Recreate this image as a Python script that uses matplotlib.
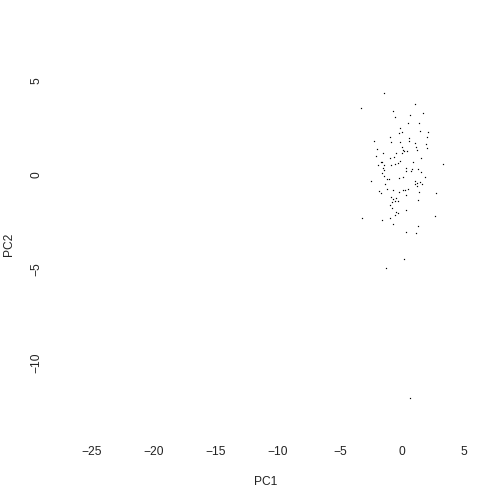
import matplotlib
matplotlib.use("Agg")
import matplotlib.pyplot as plt

# PCA scores
pc1 = [-1.42, -3.28, 1.08, -0.70, -0.54, 1.72, 0.67, 0.51, 1.40, -0.13,
       0.03, -0.22, 1.48, 2.12, -0.94, 0.59, 2.04, -2.26, -0.86, 0.59,
       -0.13, 1.02, 1.96, -1.99, -0.03, 0.11, 1.16, 0.19, 1.24, 2.04,
       -1.51, 0.43, -0.46, -2.07, -0.62, -0.94, 0.03, -1.59, -1.67, -1.42,
       -0.54, -0.30, -0.13, 0.91, 1.56, 3.33, -1.91, -1.51, -0.86, -1.42,
       0.35, 0.83, 1.32, 0.35, 0.75, 1.51, -1.59, -1.42, -1.18, -1.02,
       -0.22, 0.11, 1.88, -2.47, 1.08, 1.42, 1.24, 1.64, 1.08, -1.34,
       1.24, -1.18, 0.11, 0.27, 0.51, -0.70, -1.83, -1.67, -0.22, 1.40,
       2.77, 0.35, -0.86, -0.46, -0.70, -0.54, -0.30, -0.78, 1.32, -0.94,
       -0.78, 0.35, -0.46, -0.30, -0.54, -3.20, -1.59, -0.94, 2.69, -0.70,
       1.32, 0.35, 1.16, 0.19, -1.27, 0.67]
pc2 = [4.34, 3.55, 3.76, 3.39, 3.09, 3.28, 3.17, 2.75, 2.75, 2.48,
       2.30, 2.22, 2.36, 2.30, 2.04, 1.95, 2.04, 1.79, 1.74, 1.79,
       1.74, 1.68, 1.63, 1.37, 1.51, 1.33, 1.47, 1.26, 1.33, 1.42,
       1.15, 1.26, 1.15, 0.99, 0.94, 0.89, 1.15, 0.71, 0.69, 0.51,
       0.57, 0.62, 0.73, 0.69, 0.90, 0.57, 0.51, 0.35, 0.51, 0.27,
       0.35, 0.30, 0.30, 0.19, 0.19, 0.14, 0.09, -0.04, -0.21, -0.21,
       -0.18, -0.12, -0.12, -0.32, -0.34, -0.39, -0.44, -0.50, -0.50, -0.50,
       -0.60, -0.73, -0.80, -0.80, -0.76, -0.82, -0.87, -0.98, -0.92, -0.92,
       -0.98, -1.08, -1.19, -1.24, -1.29, -1.37, -1.37, -1.45, -1.33, -1.61,
       -1.77, -1.86, -1.95, -2.00, -2.11, -2.31, -2.39, -2.29, -2.20, -2.62,
       -2.73, -3.01, -3.10, -4.48, -4.96, -11.88]

xticks = [-25, -20, -15, -10, -5, 0, 5]
yticks = [5, 0, -5, -10]

plt.rcParams['font.family'] = ['Liberation Sans', 'DejaVu Sans']

fig = plt.figure(figsize=(7, 7), dpi=72)
# plot region in pixels: left 52, right 480, top 60, bottom 428
ax = fig.add_axes([52/504, (504-428)/504, (480-52)/504, (428-60)/504])

ax.plot(pc1, pc2, linestyle='none', marker='s', markersize=1.2,
        markeredgewidth=0, color='black')

ax.set_xlim(-28.23, 6.29)
ax.set_ylim(-13.46, 6.12)
ax.set_xticks(xticks)
ax.set_yticks(yticks)
ax.tick_params(axis='both', length=0, labelsize=12, colors='#222222')
ax.tick_params(axis='x', pad=18)
ax.tick_params(axis='y', pad=10)
for lab in ax.get_yticklabels():
    lab.set_rotation(90)
    lab.set_va('center')

for s in ax.spines.values():
    s.set_visible(False)

ax.set_xlabel("PC1", fontsize=12, color='#222222')
ax.set_ylabel("PC2", fontsize=12, color='#222222')
ax.xaxis.set_label_coords(0.5, -54/368)
ax.xaxis.label.set_va('center')
ax.yaxis.set_label_coords(-43/428, 0.5)
ax.yaxis.label.set_va('center')

fig.savefig("out.png", dpi=72, facecolor='white')
